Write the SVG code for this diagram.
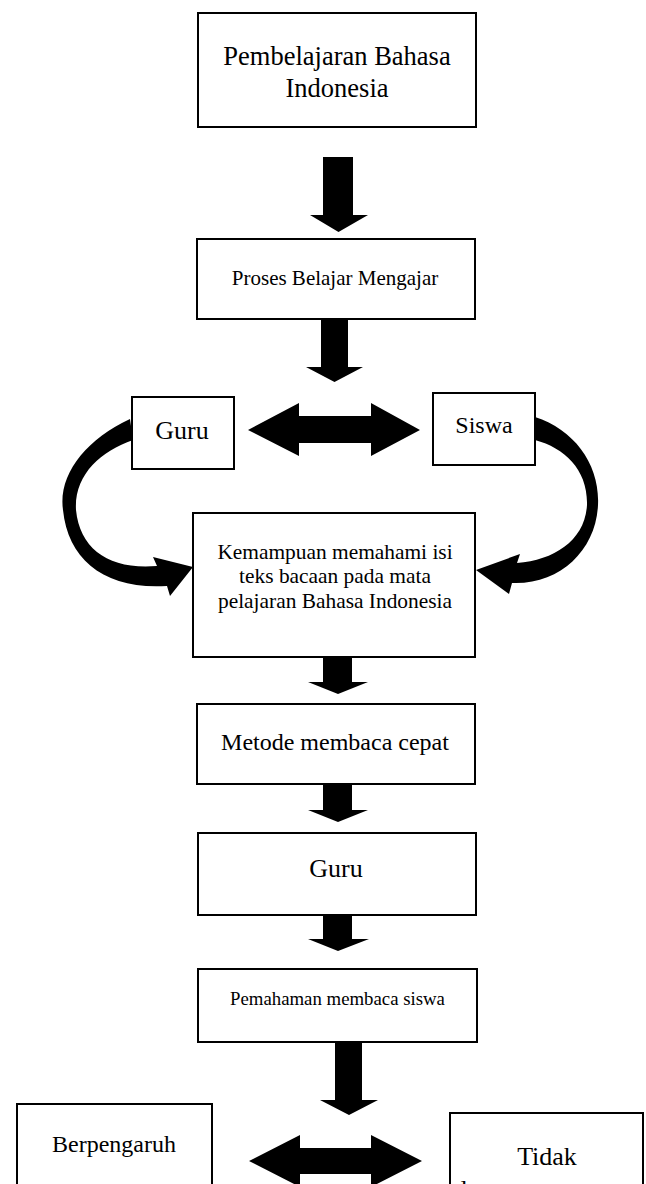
<svg xmlns="http://www.w3.org/2000/svg" width="646" height="1184" viewBox="0 0 646 1184">
<style>
.box{fill:#fff;stroke:#000;stroke-width:2}
.t{font-family:"Liberation Serif","Times New Roman",serif;fill:#000;text-anchor:middle}
.ar{fill:#000;stroke:none}
</style>
<rect width="646" height="1184" fill="#fff"/>
<g id="connectors">
<path class="ar" d="M323 157H353V215H368L338.5 232L310 215H323Z"/>
<path class="ar" d="M321 319H348V367H363L334.5 382L306 367H321Z"/>
<path class="ar" d="M248 430L299 403V416H371V403L420 430L371 456V443H299V456Z"/>
<path class="ar" d="M130 419C85 440 58 475 63 510C68 560 105 590 167 586L170 596L193 567L153 557L157 566C110 570 80 550 76 510C74 475 100 452 133 440Z"/>
<path class="ar" d="M535 417C575 430 600 465 598 505C596 550 560 585 512 583L509 594L476 570L520 554L517 563C555 560 585 540 587 505C588 470 565 448 535 440Z"/>
<path class="ar" d="M323 657H352V682H368L338 694L308 682H323Z"/>
<path class="ar" d="M323 783H352V810H368L338 822L308 810H323Z"/>
<path class="ar" d="M323 914H352V939H369L338 951L308 939H323Z"/>
<path class="ar" d="M335 1042H362V1100H378L349 1115L320 1100H335Z"/>
<path class="ar" d="M249 1161L300 1135V1148H371V1135L422 1161L371 1187V1174H300V1187Z"/>
</g>
<g id="n1"><rect class="box" x="198" y="13" width="278" height="114"/>
<text class="t" x="337" y="65" font-size="26.5">Pembelajaran Bahasa</text>
<text class="t" x="337" y="97" font-size="26.5">Indonesia</text></g>
<g id="n2"><rect class="box" x="197" y="239" width="278" height="80"/>
<text class="t" x="335" y="285" font-size="21">Proses Belajar Mengajar</text></g>
<g id="n3"><rect class="box" x="132" y="397" width="102" height="72"/>
<text class="t" x="182" y="439" font-size="26">Guru</text></g>
<g id="n4"><rect class="box" x="433" y="393" width="102" height="72"/>
<text class="t" x="484" y="433" font-size="24">Siswa</text></g>
<g id="n5"><rect class="box" x="193" y="513" width="282" height="144"/>
<text class="t" x="335" y="559" font-size="21.4">Kemampuan memahami isi</text>
<text class="t" x="335" y="583" font-size="21.4">teks bacaan pada mata</text>
<text class="t" x="335" y="608" font-size="21.4">pelajaran Bahasa Indonesia</text></g>
<g id="n6"><rect class="box" x="197" y="704" width="278" height="80"/>
<text class="t" x="335" y="750" font-size="24">Metode membaca cepat</text></g>
<g id="n7"><rect class="box" x="198" y="833" width="278" height="82"/>
<text class="t" x="336" y="877" font-size="26">Guru</text></g>
<g id="n8"><rect class="box" x="198" y="969" width="279" height="73"/>
<text class="t" x="337.5" y="1005" font-size="18.8">Pemahaman membaca siswa</text></g>
<g id="n9"><rect class="box" x="17" y="1104" width="195" height="100"/>
<text class="t" x="114" y="1152" font-size="24">Berpengaruh</text></g>
<g id="n10"><rect class="box" x="450" y="1113" width="193" height="100"/>
<text class="t" x="547" y="1165" font-size="26">Tidak</text>
<text class="t" x="547" y="1198" font-size="26" style="text-anchor:start" dx="-93">d</text></g>
</svg>
